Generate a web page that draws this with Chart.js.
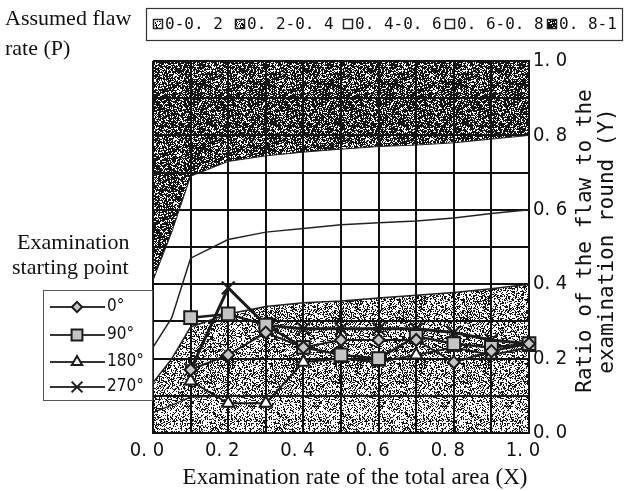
<!DOCTYPE html>
<html>
<head>
<meta charset="utf-8">
<script src="https://cdn.jsdelivr.net/npm/chart.js@4.4.1/dist/chart.umd.min.js"></script>
<style>
  html, body { margin: 0; padding: 0; background: #fff; }
  #wrap { width: 630px; height: 491px; position: relative; }
</style>
</head>
<body>
<div id="wrap"><canvas id="grafico"></canvas></div>
<script>
// Contornos del "assumed flaw rate" (P): limite superior de cada banda
const contornoX = [0, 0.05, 0.1, 0.2, 0.3, 0.4, 0.5, 0.6, 0.7, 0.8, 0.9, 1.0];
const limite02 = [0.055, 0.075, 0.097, 0.10, 0.10, 0.10, 0.10, 0.10, 0.10, 0.10, 0.10, 0.10];
const limite04 = [0.135, 0.20, 0.285, 0.32, 0.34, 0.35, 0.355, 0.363, 0.37, 0.378, 0.388, 0.40];
const limite06 = [0.23, 0.31, 0.47, 0.52, 0.54, 0.55, 0.56, 0.565, 0.57, 0.578, 0.59, 0.60];
const limite08 = [0.41, 0.54, 0.69, 0.73, 0.745, 0.755, 0.763, 0.77, 0.774, 0.78, 0.79, 0.80];
const bandas = ['0-0. 2', '0. 2-0. 4', '0. 4-0. 6', '0. 6-0. 8', '0. 8-1'];

// Punto de inicio del examen
const examenX = [0.1, 0.2, 0.3, 0.4, 0.5, 0.6, 0.7, 0.8, 0.9, 1.0];
const serie0 = [0.17, 0.21, 0.27, 0.23, 0.25, 0.25, 0.25, 0.19, 0.22, 0.24];
const serie90 = [0.31, 0.32, 0.29, 0.23, 0.21, 0.20, 0.26, 0.24, 0.23, 0.24];
const serie180 = [0.14, 0.08, 0.08, 0.19, 0.20, 0.19, 0.21, 0.23, 0.21, 0.23];
const serie270 = [0.17, 0.39, 0.29, 0.28, 0.28, 0.28, 0.28, 0.27, 0.25, 0.24];
const series = ['0°', '90°', '180°', '270°'];

const ticksX = [0, 0.2, 0.4, 0.6, 0.8, 1.0];

const canvas = document.getElementById('grafico');
const ctx = canvas.getContext('2d');

// textura punteada tipo escaneo
function punteado(densidad, semilla) {
  const n = 64;
  const c = document.createElement('canvas');
  c.width = c.height = n;
  const g = c.getContext('2d');
  const img = g.createImageData(n, n);
  for (let i = 0; i < n * n; i++) {
    let h = Math.imul(i ^ semilla, 0x9E3779B1);
    h ^= h >>> 16;
    h = Math.imul(h, 0x85EBCA6B);
    h ^= h >>> 13;
    h = Math.imul(h, 0xC2B2AE35);
    h ^= h >>> 16;
    if ((h >>> 0) / 4294967296 < densidad) {
      img.data[i * 4] = 20; img.data[i * 4 + 1] = 20; img.data[i * 4 + 2] = 20;
      img.data[i * 4 + 3] = 255;
    }
  }
  g.putImageData(img, 0, 0);
  return ctx.createPattern(c, 'repeat');
}

const texturaClara = punteado(0.34, 0x51ed);
const texturaMedia = punteado(0.42, 0x2a7f);
const texturaOscura = punteado(0.72, 0x6b13);
const estilosBanda = [texturaClara, texturaMedia, '#fff', '#fff', texturaOscura];

const pares = (xs, ys) => xs.map((x, i) => ({ x: x, y: ys[i] }));

const gothic = '"Liberation Sans Narrow", "DejaVu Sans Condensed", "Liberation Sans", sans-serif';
const mono = '"DejaVu Sans Mono", "Liberation Mono", monospace';
const serif = '"Liberation Serif", "DejaVu Serif", serif';

const estiloSerie = [
  { pointStyle: 'rectRot', radius: 6, fill: '#c4c4c4', width: 2 },
  { pointStyle: 'rect', radius: 9, fill: '#c4c4c4', width: 2.5 },
  { pointStyle: 'triangle', radius: 7, fill: '#ffffff', width: 2 },
  { pointStyle: 'crossRot', radius: 9, fill: '#ffffff', width: 3 }
];

const datosSeries = [serie0, serie90, serie180, serie270].map((s, i) => ({
  label: series[i],
  data: pares(examenX, s),
  borderColor: '#1b1b1b',
  borderWidth: estiloSerie[i].width,
  backgroundColor: estiloSerie[i].fill,
  pointStyle: estiloSerie[i].pointStyle,
  pointRadius: estiloSerie[i].radius,
  pointBorderWidth: 2,
  pointBorderColor: '#1b1b1b',
  pointBackgroundColor: estiloSerie[i].fill,
  fill: false,
  tension: 0,
  clip: 12,
  order: 0
}));

const datosBandas = [
  { label: bandas[0], data: pares(contornoX, limite02), fill: 'origin', backgroundColor: texturaClara, borderWidth: 1.5 },
  { label: bandas[1], data: pares(contornoX, limite04), fill: '-1', backgroundColor: texturaMedia, borderWidth: 1.5 },
  { label: bandas[2], data: pares(contornoX, limite06), fill: false, backgroundColor: 'rgba(0,0,0,0)', borderWidth: 1.5 },
  { label: bandas[4], data: pares(contornoX, limite08), fill: 'end', backgroundColor: texturaOscura, borderWidth: 1 }
].map(d => Object.assign(d, { borderColor: '#222', pointRadius: 0, tension: 0, order: 1 }));

// leyendas y textos sueltos
const anotaciones = {
  id: 'anotaciones',
  afterDraw(chart) {
    const c = chart.ctx;
    c.save();
    c.fillStyle = '#111';
    c.font = '22px ' + serif;
    c.textBaseline = 'alphabetic';
    c.textAlign = 'left';
    c.fillText('Assumed flaw', 5, 25);
    c.fillText('rate (P)', 5, 55);
    c.fillText('Examination', 17, 249);
    c.fillText('starting point', 12, 274);
    c.font = '23px ' + serif;
    c.textAlign = 'center';
    c.fillText('Examination rate of the total area (X)', 355, 484);

    // titulo del eje derecho
    c.save();
    c.font = '21px ' + mono;
    c.translate(586, 241);
    c.rotate(-Math.PI / 2);
    c.textAlign = 'center';
    c.textBaseline = 'middle';
    c.fillText('Ratio of the flaw to the', 0, 0);
    c.fillText('examination round (Y)', 0, 22);
    c.restore();

    // leyenda de bandas
    c.strokeStyle = '#333';
    c.lineWidth = 1.2;
    c.strokeRect(146.5, 8.5, 476, 32);
    const iconoX = [153, 235, 343, 445, 547];
    c.font = '16px ' + mono;
    c.textAlign = 'left';
    c.textBaseline = 'middle';
    bandas.forEach((b, i) => {
      c.fillStyle = '#fff';
      c.fillRect(iconoX[i], 19, 10, 10);
      c.fillStyle = estilosBanda[i];
      c.fillRect(iconoX[i], 19, 10, 10);
      c.strokeStyle = '#222';
      c.lineWidth = 1.5;
      c.strokeRect(iconoX[i] + 0.5, 19.5, 9, 9);
      c.fillStyle = '#111';
      c.fillText(b, iconoX[i] + 12, 25);
    });

    // leyenda de series
    c.strokeStyle = '#555';
    c.lineWidth = 1;
    c.strokeRect(43.5, 290.5, 109, 110);
    const filaY = [307, 335, 362, 387];
    c.font = '17px ' + gothic;
    series.forEach((s, i) => {
      const e = estiloSerie[i];
      c.strokeStyle = '#333';
      c.lineWidth = 1.8;
      c.beginPath();
      c.moveTo(50, filaY[i]);
      c.lineTo(105, filaY[i]);
      c.stroke();
      c.fillStyle = e.fill;
      c.strokeStyle = '#1b1b1b';
      c.lineWidth = 2;
      Chart.helpers.drawPoint(c, { pointStyle: e.pointStyle, rotation: 0, radius: e.radius * 0.85, borderWidth: 2 }, 77, filaY[i]);
      c.fillStyle = '#111';
      c.fillText(s, 107, filaY[i]);
    });
    c.restore();
  }
};

new Chart(ctx, {
  type: 'line',
  data: { datasets: datosSeries.concat(datosBandas) },
  options: {
    responsive: true,
    maintainAspectRatio: false,
    animation: false,
    layout: { padding: { left: 153, top: 61, right: 0, bottom: 0 } },
    plugins: {
      legend: { display: false },
      tooltip: { enabled: false },
      filler: { propagate: false }
    },
    scales: {
      x: {
        type: 'linear',
        min: 0,
        max: 1,
        afterFit: s => { s.height = 58; },
        afterBuildTicks: s => { s.ticks = contornoX.filter(v => v !== 0.05).map(v => ({ value: v })); },
        grid: { color: '#111', lineWidth: 2, drawTicks: false },
        border: { color: '#111', width: 2 },
        ticks: {
          padding: 6,
          labelOffset: -6,
          maxRotation: 0,
          autoSkip: false,
          color: '#111',
          font: { family: gothic, size: 20 },
          callback: v => ticksX.some(t => Math.abs(t - v) < 1e-6) ? v.toFixed(1).replace('.', '. ') : ''
        }
      },
      y: {
        type: 'linear',
        position: 'right',
        min: 0,
        max: 1,
        afterFit: s => { s.width = 101; },
        grid: { color: '#111', lineWidth: 2, drawTicks: false },
        border: { color: '#111', width: 2 },
        ticks: {
          stepSize: 0.1,
          padding: 4,
          autoSkip: false,
          color: '#111',
          font: { family: gothic, size: 20 },
          callback: v => Math.round(v * 10) % 2 === 0 ? v.toFixed(1).replace('.', '. ') : ''
        }
      }
    }
  },
  plugins: [anotaciones]
});
</script>
</body>
</html>
